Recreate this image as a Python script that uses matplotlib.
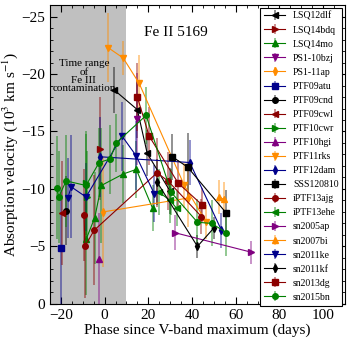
import numpy as np
import matplotlib.pyplot as plt

plt.rcParams['font.family'] = ['Liberation Serif', 'DejaVu Serif']
plt.rcParams['mathtext.fontset'] = 'stix'

# ------------------------------------------------
# Data (phase in days, velocity in 10^3 km/s, error)
# ------------------------------------------------

names = ["LSQ12dlf", "LSQ14bdq", "LSQ14mo", "PS1-10bzj", "PS1-11ap", "PTF09atu",
         "PTF09cnd", "PTF09cwl", "PTF10cwr", "PTF10hgi", "PTF11rks", "PTF12dam",
         "SSS120810", "iPTF13ajg", "iPTF13ehe", "sn2005ap", "sn2007bi", "sn2011ke",
         "sn2011kf", "sn2013dg", "sn2015bn"]

colors = ["k", "darkred", "green", "purple", "darkorange", "darkblue"]
markers = ["<", ">", "^", "v", "d", "s", "o"]

phase = [
    [4.5, 15, 19.5, 30],
    [-2],
    [-8.5, -4.5, -1.5, 8.5, 14.5, 22],
    [15],
    [-0.7, 38],
    [-20],
    [-17.5],
    [-19.5],
    [-8.5, -8],
    [-2.5],
    [1.6, 8.5, 15.8, 36.5, 46.6],
    [-2, 39, 53.5],
    [31, 38, 55.7],
    [-9.4, -9, -4.8, 24, 29, 44.3],
    [25, 30, 33],
    [32, 67],
    [52.5, 54.5],
    [-16.7, -15.4, -8.5, 8, 14.4, 22.7],
    [24, 42.5, 50],
    [15, 20.4, 33.7, 44.7],
    [-22, -21, -17.6, -8.5, -2.5, 2.5, 5.3, 19, 30.5, 42.5, 49, 55.7],
]

velocity = [
    [18.6, 16.9, 13.1, 9.8],
    [13.5],
    [5.6, 7.5, 10.3, 11.3, 11.7, 8.3],
    [16.1],
    [8.0, 9.2],
    [4.9],
    [8.1],
    [7.9],
    [10.5, 9.3],
    [3.9],
    [22.3, 21.4, 19.2, 10.3, 7.1],
    [12.8, 12.3, 6.4],
    [12.8, 11.9, 7.9],
    [7.7, 5.0, 6.4, 11.4, 10.7, 7.6],
    [9.7, 9.0, 8.3],
    [6.2, 4.5],
    [9.3, 9.1],
    [9.2, 10.2, 9.3, 14.6, 12.9, 9.6],
    [10.6, 5.0, 6.6],
    [18.0, 14.6, 10.5, 8.6],
    [10.1, 9.3, 10.7, 10.3, 12.3, 12.6, 14.0, 16.4, 9.7, 7.1, 7.0, 6.2],
]

errors = [
    [2.0, 2.5, 2.0, 2.0],
    [4.5],
    [4.8, 4.0, 5.0, 2.5, 2.5, 2.0],
    [4.0],
    [4.8, 2.5],
    [5.0],
    [3.0],
    [4.5],
    [4.5, 4.0],
    [4.0],
    [3.0, 1.5, 2.5, 2.0, 1.5],
    [3.5, 2.0, 1.5],
    [2.0, 3.0, 2.0],
    [4.0, 4.5, 4.8, 3.0, 2.5, 1.5],
    [2.0, 2.0, 1.5],
    [1.5, 1.0],
    [1.5, 1.5],
    [3.5, 4.5, 3.0, 3.0, 3.0, 2.5],
    [2.0, 1.0, 1.0],
    [3.0, 2.5, 2.0, 1.5],
    [4.5, 4.0, 4.0, 4.5, 3.0, 3.0, 2.5, 2.5, 2.0, 2.0, 2.0, 2.0],
]

# ------------------------------------------------
# Plot
# ------------------------------------------------

fig = plt.figure(figsize=(3.47, 3.41), dpi=100)
ax = fig.add_axes([0.144, 0.109, 0.850, 0.876])

ax.axvspan(-30, 10, color="#c0c0c0", zorder=0, lw=0)

for i, name in enumerate(names):
    c = colors[i % len(colors)]
    m = markers[i % len(markers)]
    eb = ax.errorbar(phase[i], -np.array(velocity[i]), yerr=errors[i],
                     color=c, marker=m, ms=4, lw=0.8, elinewidth=1.2,
                     capsize=0, label=name)
    eb[2][0].set_alpha(0.5)

ax.text(-9.5, -19.8, "Time range\nof\nFe III\ncontamination", ha="center",
        va="center", fontsize=8, linespacing=0.9)
ax.text(18, -23.3, "Fe II 5169", fontsize=11, va="baseline")

ax.set_xlim(-25, 110)
ax.set_ylim(0, -26)
ax.set_xticks([-20, 0, 20, 40, 60, 80, 100])
ax.set_yticks([-25, -20, -15, -10, -5, 0])
ax.set_xticks(np.arange(-25, 111, 5), minor=True)
ax.set_yticks(np.arange(-26, 1, 1), minor=True)
ax.tick_params(which="both", direction="in", top=True, right=True, labelsize=11)
ax.tick_params(which="major", length=5)
ax.tick_params(which="minor", length=2.5)

ax.set_xlabel("Phase since V-band maximum (days)", fontsize=11, labelpad=1)
ax.set_ylabel("Absorption velocity (10$^3$ km s$^{-1}$)", fontsize=11, labelpad=1)

leg = ax.legend(loc="upper right", fontsize=7, frameon=True, fancybox=False,
                edgecolor="k", framealpha=1, handlelength=2.2, labelspacing=0.52,
                borderaxespad=0.25, borderpad=0.4)
leg.get_frame().set_linewidth(0.8)

plt.savefig("out.png", dpi=100)
plt.close()
